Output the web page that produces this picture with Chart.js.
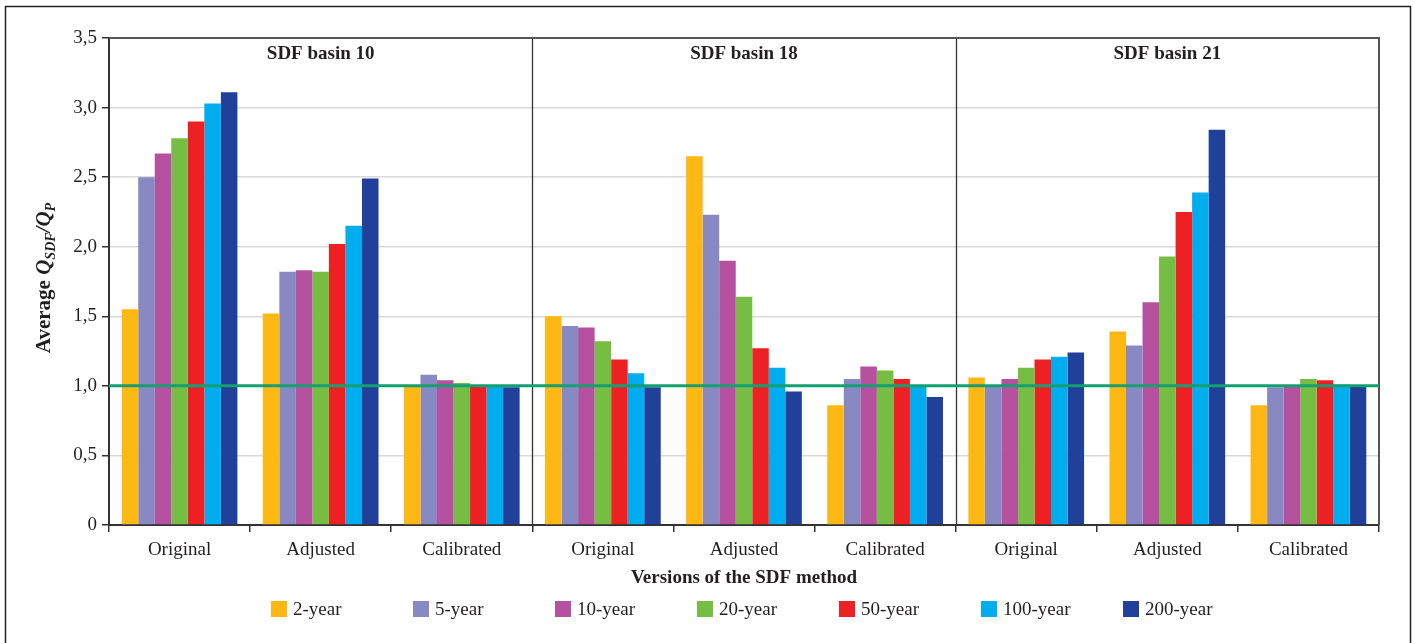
<!DOCTYPE html>
<html>
<head>
<meta charset="utf-8">
<script src="https://cdn.jsdelivr.net/npm/chart.js@4/dist/chart.umd.min.js"></script>
<style>
    html, body { margin: 0; padding: 0; background: #fff; }
    #wrap { width: 1415px; height: 643px; position: relative; }
</style>
</head>
<body>
<div id="wrap"><canvas id="sdfChart" width="1415" height="643"></canvas></div>
<script>
// 数据
const categories = ['Original', 'Adjusted', 'Calibrated', 'Original', 'Adjusted', 'Calibrated', 'Original', 'Adjusted', 'Calibrated'];
const panelTitles = ['SDF basin 10', 'SDF basin 18', 'SDF basin 21'];
const seriesNames = ['2-year', '5-year', '10-year', '20-year', '50-year', '100-year', '200-year'];
const seriesColors = ['#fdb813', '#8889c2', '#b5519e', '#76bd43', '#ed2024', '#00adee', '#21409a'];

const year2   = [1.55, 1.52, 1.00, 1.50, 2.65, 0.86, 1.06, 1.39, 0.86];
const year5   = [2.50, 1.82, 1.08, 1.43, 2.23, 1.05, 1.00, 1.29, 0.99];
const year10  = [2.67, 1.83, 1.04, 1.42, 1.90, 1.14, 1.05, 1.60, 1.00];
const year20  = [2.78, 1.82, 1.02, 1.32, 1.64, 1.11, 1.13, 1.93, 1.05];
const year50  = [2.90, 2.02, 1.00, 1.19, 1.27, 1.05, 1.19, 2.25, 1.04];
const year100 = [3.03, 2.15, 1.00, 1.09, 1.13, 1.00, 1.21, 2.39, 1.01];
const year200 = [3.11, 2.49, 0.99, 0.99, 0.96, 0.92, 1.24, 2.84, 1.00];

const yTicks = [0, 0.5, 1.0, 1.5, 2.0, 2.5, 3.0, 3.5];
const referenceLevel = 1.0;

const allSeries = [year2, year5, year10, year20, year50, year100, year200];
const serifFont = '"Liberation Serif", "DejaVu Serif", serif';

// 自定义绘制：外框、分隔线、参考线、标题、图例
const decorPlugin = {
    id: 'decor',
    afterDraw(chart) {
        const ctx = chart.ctx;
        const area = chart.chartArea;
        const x = chart.scales.x;
        const y = chart.scales.y;

        ctx.save();
        // 外框
        ctx.strokeStyle = '#222';
        ctx.lineWidth = 1.5;
        ctx.strokeRect(5.5, 6.5, 1405, 700);

        // 分组分隔线
        ctx.strokeStyle = '#333';
        ctx.lineWidth = 1.3;
        [3, 6].forEach(i => {
            const px = Math.round((x.getPixelForValue(i - 1) + x.getPixelForValue(i)) / 2) + 0.5;
            ctx.beginPath();
            ctx.moveTo(px, area.top);
            ctx.lineTo(px, area.bottom);
            ctx.stroke();
        });

        // 绘图区上、右边框
        ctx.strokeStyle = '#555';
        ctx.lineWidth = 2;
        ctx.beginPath();
        ctx.moveTo(area.left, area.top);
        ctx.lineTo(area.right, area.top);
        ctx.lineTo(area.right, area.bottom);
        ctx.stroke();

        // 参考线 1,0
        const ry = y.getPixelForValue(referenceLevel);
        ctx.strokeStyle = '#12a070';
        ctx.lineWidth = 3;
        ctx.beginPath();
        ctx.moveTo(area.left, ry);
        ctx.lineTo(area.right, ry);
        ctx.stroke();

        // 面板标题
        ctx.fillStyle = '#231f20';
        ctx.font = 'bold 19px ' + serifFont;
        ctx.textAlign = 'center';
        ctx.textBaseline = 'middle';
        panelTitles.forEach((t, i) => {
            const cx = x.getPixelForValue(i * 3 + 1);
            ctx.fillText(t, cx, 54);
        });

        // X轴标题
        ctx.fillText('Versions of the SDF method', (area.left + area.right) / 2, 578);

        // Y轴标题（含下标）
        ctx.save();
        ctx.translate(45, 278);
        ctx.rotate(-Math.PI / 2);
        const parts = [
            { t: 'Average ', f: 'bold 21px ' + serifFont, dy: 0 },
            { t: 'Q', f: 'bold italic 21px ' + serifFont, dy: 0 },
            { t: 'SDF', f: 'bold italic 14px ' + serifFont, dy: 6 },
            { t: '/Q', f: 'bold italic 21px ' + serifFont, dy: 0 },
            { t: 'P', f: 'bold italic 14px ' + serifFont, dy: 6 }
        ];
        let total = 0;
        parts.forEach(p => { ctx.font = p.f; total += ctx.measureText(p.t).width; });
        let cx = -total / 2;
        ctx.textAlign = 'left';
        parts.forEach(p => {
            ctx.font = p.f;
            ctx.fillText(p.t, cx, p.dy);
            cx += ctx.measureText(p.t).width;
        });
        ctx.restore();

        // 图例
        ctx.font = '19px ' + serifFont;
        ctx.textAlign = 'left';
        chart.data.datasets.forEach((ds, i) => {
            const lx = 271 + i * 142;
            ctx.fillStyle = ds.backgroundColor;
            ctx.fillRect(lx, 601, 16, 16);
            ctx.fillStyle = '#231f20';
            ctx.fillText(ds.label, lx + 22, 610);
        });
        ctx.restore();
    }
};

const ctx = document.getElementById('sdfChart').getContext('2d');

const chart = new Chart(ctx, {
    type: 'bar',
    data: {
        labels: categories,
        datasets: seriesNames.map((name, i) => ({
            label: name,
            data: allSeries[i],
            backgroundColor: seriesColors[i],
            borderWidth: 0,
            barPercentage: 1.0,
            categoryPercentage: 0.82
        }))
    },
    options: {
        responsive: false,
        animation: false,
        layout: {
            padding: { left: 0, top: 38, right: 36, bottom: 0 }
        },
        scales: {
            x: {
                afterFit: s => { s.height = 118; },
                grid: {
                    display: true,
                    drawOnChartArea: false,
                    offset: true,
                    color: '#333',
                    lineWidth: 1.5,
                    tickLength: 7
                },
                border: { color: '#333', width: 2 },
                ticks: {
                    color: '#231f20',
                    font: { family: serifFont, size: 19 },
                    padding: 7,
                    maxRotation: 0,
                    autoSkip: false
                }
            },
            y: {
                min: 0,
                max: 3.5,
                afterFit: s => { s.width = 109; },
                afterBuildTicks: s => { s.ticks = yTicks.map(v => ({ value: v })); },
                grid: {
                    color: '#d9d9d9',
                    lineWidth: 1.5,
                    tickLength: 7,
                    tickColor: '#333'
                },
                border: { color: '#333', width: 2 },
                ticks: {
                    color: '#231f20',
                    font: { family: serifFont, size: 19 },
                    padding: 5,
                    callback: v => v === 0 ? '0' : v.toFixed(1).replace('.', ',')
                }
            }
        },
        plugins: {
            legend: { display: false },
            tooltip: { enabled: false }
        }
    },
    plugins: [decorPlugin]
});
</script>
</body>
</html>
